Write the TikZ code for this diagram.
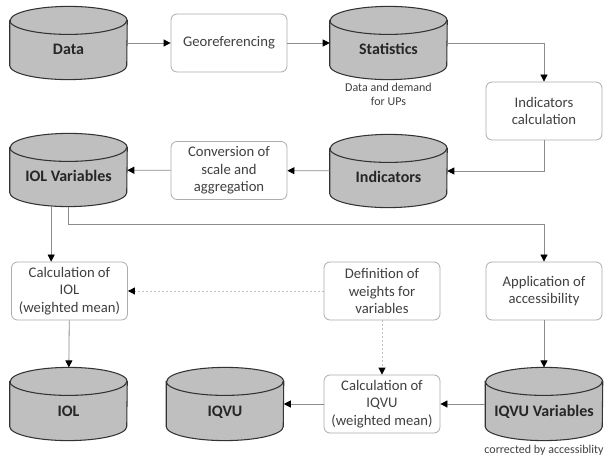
\documentclass[tikz,border=0pt]{standalone}
\usepackage{fontspec}
\setmainfont{Carlito}
\usetikzlibrary{arrows.meta,backgrounds}

\tikzset{
  db/.style={rectangle, minimum width=87.75pt, minimum height=54.5pt, inner sep=0pt,
    text height=18pt, text depth=0pt,
    text=black!85, font=\bfseries\fontsize{12}{14}\selectfont},
  dbshape/.style={draw=black!80, line width=0.8pt, fill=gray!50},
  stepbox/.style={draw=gray!65, fill=white, rounded corners=4.5pt, line width=0.6pt,
    minimum width=87pt, minimum height=43.5pt, inner sep=1pt, align=center,
    text=black!75, font=\fontsize{11}{13.2}\selectfont},
  note/.style={align=center, text=black!75, font=\fontsize{9}{10.5}\selectfont},
  flow/.style={draw=gray!90, line width=0.6pt, -{Triangle[length=5.25pt,width=5.25pt,color=black]}},
  weight/.style={flow, draw=gray!50, dash pattern=on 1.5pt off 1.5pt}
}

\begin{document}
\begin{tikzpicture}[x=0.75pt, y=-0.75pt]
        \useasboundingbox (0, 0) rectangle (608, 460);

        \node[db] at (68.5, 43) (data) {Data};
        \node[stepbox] at (229, 43) (georef) {Georeferencing};
        \node[db] at (388.5, 43) (stats) {Statistics};
        \node[note] at (388.5, 94) (statsnote) {Data and demand\\for UPs};
        \node[stepbox] at (544, 111) (indcalc) {Indicators\\calculation};
        \node[db] at (388.5, 171) (indicators) {Indicators};
        \node[stepbox] at (229, 170.5) (conversion) {Conversion of\\scale and\\aggregation};
        \node[db] at (68.5, 170) (iolvar) {IOL Variables};

        \node[stepbox] at (69.5, 291) (calciol) {Calculation of\\IOL\\(weighted mean)};
        \node[stepbox] at (382, 291) (weights) {Definition of\\weights for\\variables};
        \node[stepbox] at (544, 291) (access) {Application of\\accessibility};

        \node[db] at (68.5, 404) (iol) {IOL};
        \node[db] at (225, 404) (iqvu) {IQVU};
        \node[stepbox] at (382, 404) (calciqvu) {Calculation of\\IQVU\\(weighted mean)};
        \node[db] at (544, 404) (iqvuvar) {IQVU Variables};
        \node[note] at (544, 450) (iqvunote) {corrected by accessiblity};

        % database drums behind the labels
        \begin{scope}[on background layer]
        \foreach \n in {data, stats, indicators, iolvar, iol, iqvu, iqvuvar} {
                \draw[dbshape] ([yshift=-10.5pt]\n.north west) -- ([yshift=10.5pt]\n.south west)
                        arc[start angle=180, end angle=360, x radius=43.875pt, y radius=10.5pt]
                        -- ([yshift=-10.5pt]\n.north east)
                        arc[start angle=0, end angle=180, x radius=43.875pt, y radius=10.5pt] -- cycle;
                \draw[dbshape, fill=none] ([yshift=-10.5pt]\n.north west)
                        arc[start angle=180, end angle=360, x radius=43.875pt, y radius=10.5pt];
        }
        \end{scope}

        \draw[flow] (data) -- (georef);
        \draw[flow] (georef) -- (stats);
        \draw[flow] (stats.east) -| (indcalc.north);
        \draw[flow] (indcalc.south) |- (indicators.east);
        \draw[flow] (indicators) -- (conversion);
        \draw[flow] (conversion) -- (iolvar);
        \draw[flow] ([xshift=-13pt]iolvar.south) -- ([xshift=-13pt]iolvar.south |- calciol.north);
        \draw[flow] (iolvar.south) -- ++(0, 18) -| (access.north);
        \draw[flow] (calciol) -- (iol);
        \draw[weight] (weights) -- (calciol);
        \draw[weight] (weights) -- (calciqvu);
        \draw[flow] (access) -- (iqvuvar);
        \draw[flow] (iqvuvar) -- (calciqvu);
        \draw[flow] (calciqvu) -- (iqvu);

        \end{tikzpicture}
\end{document}
